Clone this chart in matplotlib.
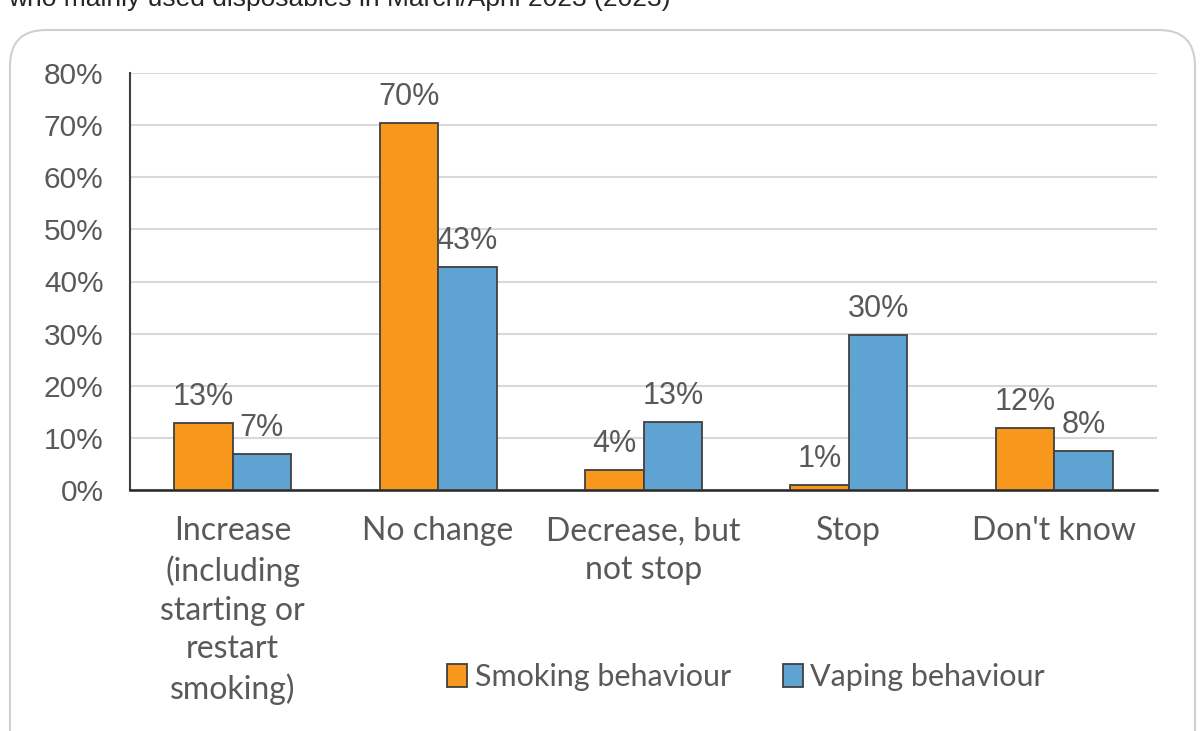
import numpy as np
import matplotlib.pyplot as plt
from matplotlib.patches import FancyBboxPatch

# data
categorias = ['Increase\n(including\nstarting or\nrestart\nsmoking)', 'No change',
              'Decrease, but\nnot stop', 'Stop', "Don't know"]
fumar = [12.85, 70.4, 3.8, 0.96, 11.9]
vapear = [6.9, 42.8, 13.0, 29.7, 7.5]
etiq_fumar = ['13%', '70%', '4%', '1%', '12%']
etiq_vapear = ['7%', '43%', '13%', '30%', '8%']
yticks = [0, 10, 20, 30, 40, 50, 60, 70, 80]

naranja = '#F7981D'
azul = '#5FA3D3'
gris_txt = '#595959'
borde = '#404040'

fig = plt.figure(figsize=(12, 7.31), dpi=100)

# caja redondeada de fondo
caja = FancyBboxPatch((10/1200, -0.05), 1185/1200, 1 - 30/731 + 0.05,
                      boxstyle='round,pad=0,rounding_size=0.03',
                      transform=fig.transFigure, facecolor='white',
                      edgecolor='#d0d0d0', linewidth=1.5, mutation_aspect=1200/731,
                      zorder=-5)
fig.patches.append(caja)

# titulo cortado arriba
fig.text(8/1200, 1 - 6/731, 'who mainly used disposables in March/April 2023 (2023)',
         fontsize=19, color='#262626', family='Liberation Sans', va='baseline')

ax = fig.add_axes([130/1200, 1 - 490/731, 1027/1200, 417/731])
ax.set_zorder(2)
x = np.arange(len(categorias))
w = 0.285
b1 = ax.bar(x - w/2, fumar, w, color=naranja, edgecolor=borde, linewidth=1.3,
            label='Smoking behaviour', zorder=3)
b2 = ax.bar(x + w/2, vapear, w, color=azul, edgecolor=borde, linewidth=1.3,
            label='Vaping behaviour', zorder=3)

for barras, etiqs in [(b1, etiq_fumar), (b2, etiq_vapear)]:
    for r, t in zip(barras, etiqs):
        ax.annotate(t, (r.get_x() + r.get_width()/2, r.get_height()),
                    xytext=(0, 8), textcoords='offset points', ha='center',
                    va='bottom', fontsize=22, color=gris_txt, family='Liberation Sans')

ax.set_xlim(-0.5, len(categorias) - 0.5)
ax.set_ylim(0, 80)
ax.set_yticks(yticks)
ax.set_yticklabels([f'{v}%' for v in yticks], fontsize=21.5, color=gris_txt,
                   family='Liberation Sans')
ax.set_xticks(x)
ax.set_xticklabels(categorias, fontsize=23, color=gris_txt, family='Lato',
                   linespacing=1.36, va='top')
ax.tick_params(axis='x', length=0, pad=19)
ax.tick_params(axis='y', length=0, pad=19)
ax.grid(axis='y', color='#d9d9d9', linewidth=1.5, zorder=0)
for s in ['top', 'right']:
    ax.spines[s].set_visible(False)
ax.spines['left'].set_color(borde)
ax.spines['left'].set_linewidth(1.5)
ax.spines['bottom'].set_color('#262626')
ax.spines['bottom'].set_linewidth(1.8)
ax.set_facecolor('none')

leg = fig.legend(handles=[b1, b2], loc='center', bbox_to_anchor=(746/1200, 1 - 677/731),
                 ncol=2, frameon=False, handlelength=0.65,
                 handleheight=0.8, handletextpad=0.25, columnspacing=1.7,
                 prop={'family': 'Lato', 'size': 22})
for t in leg.get_texts():
    t.set_color(gris_txt)

fig.savefig('out.png', dpi=100)
